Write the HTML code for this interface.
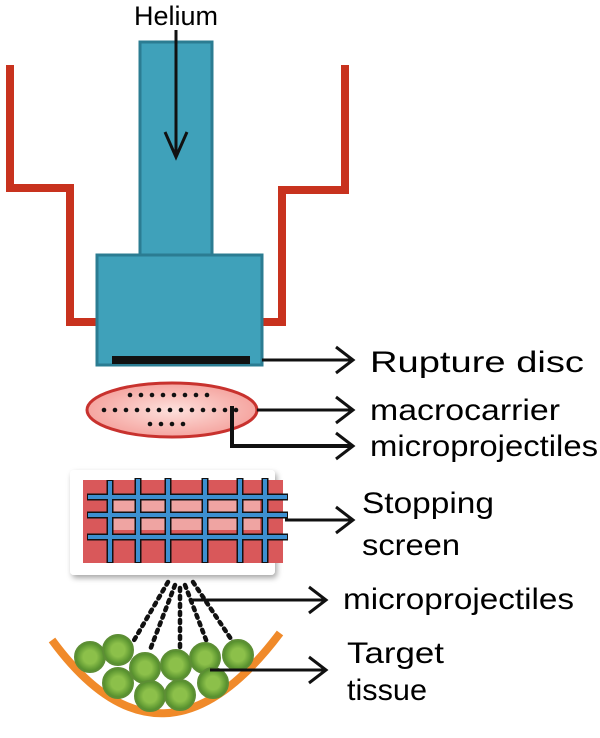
<!DOCTYPE html>
<html><head><style>body{margin:0;background:#fff}svg{display:block}text{font-family:"Liberation Sans",sans-serif;fill:#000}</style></head>
<body>
<svg width="600" height="738" viewBox="0 0 600 738" xmlns="http://www.w3.org/2000/svg">
<defs>
<filter id="sh" x="-10%" y="-10%" width="130%" height="130%"><feDropShadow dx="2" dy="3" stdDeviation="3" flood-opacity="0.35"/></filter>
<radialGradient id="g"><stop offset="0.45" stop-color="#8cc04a"/><stop offset="1" stop-color="#4f8a2a"/></radialGradient>
<radialGradient id="e"><stop offset="0" stop-color="#fde0dc"/><stop offset="1" stop-color="#f5a5a0"/></radialGradient>
</defs>
<g fill="none" stroke="#c8321e" stroke-width="8">
<polyline points="10,65 10,188 70,188 70,322 100,322"/>
<polyline points="345,65 345,190 282,190 282,322 258,322"/>
</g>
<rect x="140" y="42" width="72" height="218" fill="#3fa1ba" stroke="#2b7c92" stroke-width="3"/>
<rect x="97" y="255" width="165" height="110" fill="#3fa1ba" stroke="#2b7c92" stroke-width="3"/>
<rect x="112" y="356" width="138" height="8" fill="#111"/>
<text x="176" y="25" font-size="27" text-anchor="middle">Helium</text>
<g stroke="#111" stroke-width="3" fill="none">
<line x1="176" y1="30" x2="176" y2="155"/><polyline points="165,132 176,157 187,132"/>
</g>
<ellipse cx="172" cy="410" rx="85" ry="27" fill="url(#e)" stroke="#c8322e" stroke-width="3"/>
<g fill="#111">
<circle cx="130" cy="395" r="2.3"/><circle cx="141" cy="395" r="2.3"/><circle cx="152" cy="395" r="2.3"/><circle cx="163" cy="395" r="2.3"/><circle cx="174" cy="395" r="2.3"/><circle cx="185" cy="395" r="2.3"/><circle cx="196" cy="395" r="2.3"/><circle cx="207" cy="395" r="2.3"/>
<circle cx="104" cy="410" r="2.3"/><circle cx="115" cy="410" r="2.3"/><circle cx="126" cy="410" r="2.3"/><circle cx="137" cy="410" r="2.3"/><circle cx="148" cy="410" r="2.3"/><circle cx="159" cy="410" r="2.3"/><circle cx="170" cy="410" r="2.3"/><circle cx="181" cy="410" r="2.3"/><circle cx="192" cy="410" r="2.3"/><circle cx="203" cy="410" r="2.3"/><circle cx="214" cy="410" r="2.3"/><circle cx="225" cy="410" r="2.3"/><circle cx="236" cy="410" r="2.3"/>
<circle cx="150" cy="424" r="2.3"/><circle cx="161" cy="424" r="2.3"/><circle cx="172" cy="424" r="2.3"/><circle cx="183" cy="424" r="2.3"/>
</g>
<rect x="70" y="470" width="205" height="105" rx="4" fill="#fff" filter="url(#sh)"/>
<rect x="83" y="480" width="200" height="83" fill="#d9585a"/>
<rect x="110" y="500" width="150" height="30" fill="#f4b8b4" opacity="0.8"/>
<g stroke="#111" stroke-width="7">
<line x1="87" y1="497" x2="288" y2="497"/><line x1="87" y1="515" x2="288" y2="515"/><line x1="87" y1="537" x2="288" y2="537"/>
<line x1="110" y1="480" x2="110" y2="563"/><line x1="138" y1="478" x2="138" y2="563"/><line x1="168" y1="478" x2="168" y2="563"/><line x1="205" y1="478" x2="205" y2="563"/><line x1="240" y1="478" x2="240" y2="563"/><line x1="265" y1="478" x2="265" y2="563"/>
</g>
<g stroke="#3d8fd0" stroke-width="4">
<line x1="88" y1="497" x2="287" y2="497"/><line x1="88" y1="515" x2="287" y2="515"/><line x1="88" y1="537" x2="287" y2="537"/>
<line x1="110" y1="481" x2="110" y2="562"/><line x1="138" y1="479" x2="138" y2="562"/><line x1="168" y1="479" x2="168" y2="562"/><line x1="205" y1="479" x2="205" y2="562"/><line x1="240" y1="479" x2="240" y2="562"/><line x1="265" y1="479" x2="265" y2="562"/>
</g>
<g stroke="#111" stroke-width="4.5" stroke-dasharray="3,5" stroke-linecap="round" fill="none">
<line x1="168" y1="582" x2="133" y2="642"/><line x1="175" y1="585" x2="150" y2="650"/><line x1="180" y1="588" x2="180" y2="650"/><line x1="185" y1="585" x2="208" y2="645"/><line x1="193" y1="582" x2="233" y2="642"/>
</g>
<path d="M52,640 Q162,790 280,633" fill="none" stroke="#f08a2a" stroke-width="8"/>
<g fill="url(#g)" stroke="#5d8e35" stroke-width="2">
<circle cx="90" cy="657" r="15"/><circle cx="118" cy="650" r="15"/><circle cx="145" cy="668" r="15"/><circle cx="176" cy="665" r="15"/><circle cx="205" cy="658" r="15"/><circle cx="238" cy="655" r="15"/>
<circle cx="118" cy="683" r="15"/><circle cx="150" cy="696" r="15"/><circle cx="180" cy="695" r="15"/><circle cx="213" cy="683" r="15"/>
</g>
<g stroke="#111" stroke-width="3" fill="none">
<line x1="262" y1="360" x2="352" y2="360"/><polyline points="336,347 353,360 336,373"/>
<line x1="257" y1="410" x2="352" y2="410"/><polyline points="336,397 353,410 336,423"/>
<polyline points="232,406 232,446 352,446" stroke-width="4"/><polyline points="336,433 353,446 336,459"/>
<line x1="285" y1="520" x2="352" y2="520"/><polyline points="336,507 353,520 336,533"/>
<line x1="190" y1="600" x2="325" y2="600"/><polyline points="309,587 326,600 309,613"/>
<line x1="210" y1="670" x2="325" y2="670"/><polyline points="309,657 326,670 309,683"/>
</g>
<g font-size="30">
<text x="370" y="372" textLength="214" lengthAdjust="spacingAndGlyphs">Rupture disc</text>
<text x="370" y="420" textLength="190" lengthAdjust="spacingAndGlyphs">macrocarrier</text>
<text x="370" y="456" textLength="228" lengthAdjust="spacingAndGlyphs">microprojectiles</text>
<text x="362" y="513" textLength="132" lengthAdjust="spacingAndGlyphs">Stopping</text>
<text x="362" y="555" textLength="98" lengthAdjust="spacingAndGlyphs">screen</text>
<text x="343" y="609" textLength="231" lengthAdjust="spacingAndGlyphs">microprojectiles</text>
<text x="347" y="663" textLength="97" lengthAdjust="spacingAndGlyphs">Target</text>
<text x="347" y="700" textLength="80" lengthAdjust="spacingAndGlyphs">tissue</text>
</g>
</svg>
</body></html>
